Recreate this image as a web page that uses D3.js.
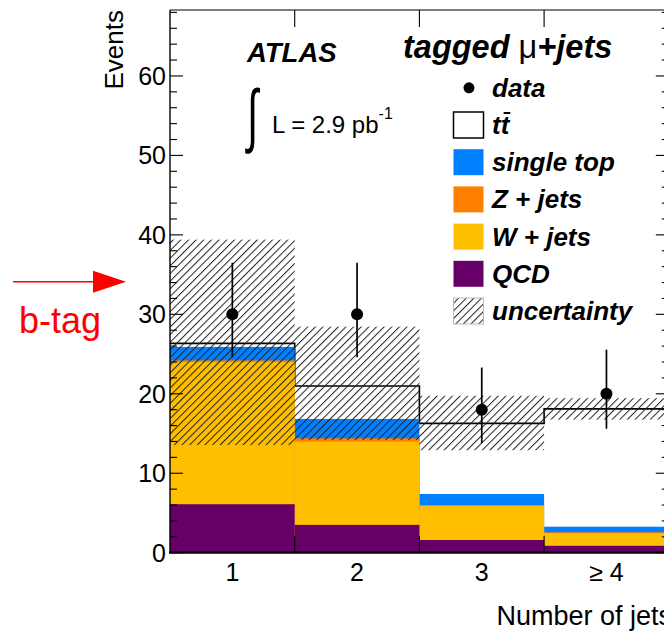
<!DOCTYPE html>
<html>
<head>
<meta charset="utf-8">
<script src="https://cdn.jsdelivr.net/npm/d3@7"></script>
<style>
  html, body { margin: 0; padding: 0; background: #fff; }
  svg { display: block; }
  text { font-family: "Liberation Sans", Arial, Helvetica, sans-serif; }
</style>
</head>
<body>
<svg id="chart" width="664" height="631"></svg>
<script>
// Jet multiplicity bins
const bins = ["1", "2", "3", "\u2265 4"];

// Expected events per bin, by process
const qcd       = [6.1, 3.5, 1.6, 0.87];
const wJets     = [17.9, 10.47, 4.3, 1.6];
const zJets     = [0.2, 0.43, 0.1, 0.1];
const singleTop = [1.7, 2.43, 1.39, 0.7];
const ttbar     = [0.45, 4.15, 8.89, 14.83];

// Systematic uncertainty band (lower / upper edge)
const uncLow  = [13.55, 14.2, 12.9, 16.75];
const uncHigh = [39.4, 28.45, 19.75, 19.45];

// Observed data with asymmetric Poisson errors
const dataCounts = [30, 30, 18, 20];
const dataErrUp   = [6.5, 6.5, 5.3, 5.55];
const dataErrDown = [5.4, 5.4, 4.2, 4.4];

const yTicks = [0, 10, 20, 30, 40, 50, 60];

const svg = d3.select("#chart");
const frameL = 170, frameR = 668.8, frameT = 10, frameB = 552.7;

const x = d3.scaleLinear().domain([0.5, 4.5]).range([frameL, frameR]);
const y = d3.scaleLinear().domain([0, 68.3]).range([frameB, frameT]);

const rows = bins.map((b, i) => ({
  bin: i + 1, qcd: qcd[i], w: wJets[i], z: zJets[i], st: singleTop[i], tt: ttbar[i]
}));
const keys = ["qcd", "w", "z", "st", "tt"];
const stack = d3.stack().keys(keys)(rows);

const colors = { qcd: "#660066", w: "#ffbf00", z: "#ff7f00", st: "#0080ff", tt: "#ffffff" };

// hatch pattern for the uncertainty band
const defs = svg.append("defs");
defs.append("pattern")
  .attr("id", "hatch")
  .attr("patternUnits", "userSpaceOnUse")
  .attr("width", 5.4).attr("height", 10)
  .attr("patternTransform", "rotate(45)")
  .append("line")
  .attr("x1", 0.5).attr("y1", 0).attr("x2", 0.5).attr("y2", 10)
  .attr("stroke", "#222").attr("stroke-width", 1);

const plot = svg.append("g");

// stacked histograms, drawn from the top of the stack downward
[...stack].reverse().forEach(layer => {
  const k = layer.key;
  plot.append("g").selectAll("rect")
    .data(layer)
    .join("rect")
    .attr("x", d => x(d.data.bin - 0.5))
    .attr("width", d => x(d.data.bin + 0.5) - x(d.data.bin - 0.5))
    .attr("y", d => y(d[1]))
    .attr("height", d => y(0) - y(d[1]))
    .attr("fill", colors[k]);
  if (k === "tt") {
    // outline of the total expectation
    let p = "";
    layer.forEach((d, i) => {
      const x0 = x(d.data.bin - 0.5), x1 = x(d.data.bin + 0.5);
      p += (i === 0 ? `M${x0},${y(d[1])}` : `V${y(d[1])}`) + `H${x1}`;
    });
    plot.append("path").attr("d", p).attr("fill", "none")
      .attr("stroke", "#000").attr("stroke-width", 1.6);
  }
});

// uncertainty band
plot.append("g").selectAll("rect")
  .data(bins.map((b, i) => ({ bin: i + 1, lo: uncLow[i], hi: uncHigh[i] })))
  .join("rect")
  .attr("x", d => x(d.bin - 0.5))
  .attr("width", d => x(d.bin + 0.5) - x(d.bin - 0.5))
  .attr("y", d => y(d.hi))
  .attr("height", d => y(d.lo) - y(d.hi))
  .attr("fill", "url(#hatch)");

// frame and ticks
const axes = svg.append("g").attr("stroke", "#000");
axes.append("line").attr("x1", frameL).attr("x2", frameL).attr("y1", frameT).attr("y2", frameB).attr("stroke-width", 1.4);
axes.append("line").attr("x1", frameL).attr("x2", frameR).attr("y1", frameT).attr("y2", frameT).attr("stroke-width", 1.2);
axes.append("line").attr("x1", frameR).attr("x2", frameR).attr("y1", frameT).attr("y2", frameB).attr("stroke-width", 1.2);
axes.append("line").attr("x1", frameL - 1).attr("x2", frameR).attr("y1", frameB).attr("y2", frameB).attr("stroke-width", 2.2);

const minorY = d3.range(0, 68.3, 2);
minorY.forEach(v => {
  const major = v % 10 === 0;
  const len = major ? 13 : 7;
  axes.append("line").attr("x1", frameL).attr("x2", frameL + len).attr("y1", y(v)).attr("y2", y(v)).attr("stroke-width", 1.1);
  axes.append("line").attr("x1", frameR - len).attr("x2", frameR).attr("y1", y(v)).attr("y2", y(v)).attr("stroke-width", 1.1);
});
[1.5, 2.5, 3.5].forEach(v => {
  axes.append("line").attr("x1", x(v)).attr("x2", x(v)).attr("y1", frameB).attr("y2", frameB - 17).attr("stroke-width", 1.1);
  axes.append("line").attr("x1", x(v)).attr("x2", x(v)).attr("y1", frameT).attr("y2", frameT + 17).attr("stroke-width", 1.1);
});

// tick labels
svg.append("g").selectAll("text")
  .data(yTicks).join("text")
  .attr("x", 166).attr("y", d => y(d) + 9)
  .attr("text-anchor", "end")
  .attr("font-size", 25)
  .text(d => d);

svg.append("g").selectAll("text")
  .data(bins).join("text")
  .attr("x", (d, i) => x(i + 1)).attr("y", 581)
  .attr("text-anchor", "middle")
  .attr("font-size", 25)
  .text(d => d);

// axis titles
svg.append("text")
  .attr("transform", "translate(123,10) rotate(-90)")
  .attr("text-anchor", "end")
  .attr("font-size", 26)
  .text("Events");

svg.append("text")
  .attr("x", 672).attr("y", 625)
  .attr("text-anchor", "end")
  .attr("font-size", 27)
  .text("Number of jets");

// data points
const dataG = svg.append("g");
dataCounts.forEach((v, i) => {
  dataG.append("line")
    .attr("x1", x(i + 1)).attr("x2", x(i + 1))
    .attr("y1", y(v + dataErrUp[i])).attr("y2", y(v - dataErrDown[i]))
    .attr("stroke", "#000").attr("stroke-width", 1.7);
  dataG.append("circle")
    .attr("cx", x(i + 1)).attr("cy", y(v)).attr("r", 6)
    .attr("fill", "#000");
});

// labels
svg.append("text")
  .attr("x", 247).attr("y", 62)
  .attr("font-size", 27.5).attr("font-weight", "bold").attr("font-style", "italic")
  .text("ATLAS");

// integral sign, drawn tall and slim
svg.append("text")
  .attr("transform", "translate(247,139) scale(0.8,1.4)")
  .attr("font-family", "DejaVu Serif, serif")
  .attr("font-size", 50)
  .text("\u222B");

const lumi = svg.append("text")
  .attr("x", 272).attr("y", 133)
  .attr("font-size", 24);
lumi.append("tspan").text("L = 2.9 pb");
lumi.append("tspan").attr("dy", -14).attr("font-size", 16).text("-1");

// legend
const lg = svg.append("g");
const title = lg.append("text")
  .attr("x", 403).attr("y", 58)
  .attr("font-size", 32.5).attr("font-weight", "bold").attr("font-style", "italic");
title.append("tspan").text("tagged ");
title.append("tspan").attr("font-weight", "normal").attr("font-style", "normal").text("\u03BC");
title.append("tspan").text("+jets");

const entries = [
  { label: "data", kind: "marker" },
  { label: "tt", kind: "box", fill: colors.tt, stroke: "#000" },
  { label: "single top", kind: "box", fill: colors.st },
  { label: "Z + jets", kind: "box", fill: colors.z },
  { label: "W + jets", kind: "box", fill: colors.w },
  { label: "QCD", kind: "box", fill: colors.qcd },
  { label: "uncertainty", kind: "hatch" }
];
entries.forEach((e, i) => {
  const cy = 87.8 + i * 37.2;
  if (e.kind === "marker") {
    lg.append("circle").attr("cx", 469).attr("cy", cy).attr("r", 5.5).attr("fill", "#000");
  } else if (e.kind === "box") {
    lg.append("rect").attr("x", 453.5).attr("y", cy - 13).attr("width", 30).attr("height", 26)
      .attr("fill", e.fill)
      .attr("stroke", e.stroke || "none").attr("stroke-width", 1.5);
  } else {
    lg.append("rect").attr("x", 453.5).attr("y", cy - 13).attr("width", 30).attr("height", 26)
      .attr("fill", "url(#hatch)").attr("stroke", "#bbb").attr("stroke-width", 1);
  }
  const t = lg.append("text")
    .attr("x", 492).attr("y", cy + 9)
    .attr("font-size", 26).attr("font-weight", "bold").attr("font-style", "italic")
    .text(e.label);
  if (e.label === "tt") {
    // bar over the second t
    const ext = t.node().getExtentOfChar(1);
    lg.append("line")
      .attr("x1", ext.x + 3).attr("x2", ext.x + ext.width + 1)
      .attr("y1", cy - 12).attr("y2", cy - 12)
      .attr("stroke", "#000").attr("stroke-width", 2);
  }
});

// b-tag annotation arrow
const ann = svg.append("g");
ann.append("line").attr("x1", 13).attr("x2", 95).attr("y1", 281.7).attr("y2", 281.7)
  .attr("stroke", "#ff0000").attr("stroke-width", 1.5);
ann.append("path").attr("d", "M93,270.7 L126,281.7 L93,292.7 Z").attr("fill", "#ff0000");
ann.append("text").attr("x", 19).attr("y", 333)
  .attr("font-size", 36).attr("fill", "#ff0000")
  .text("b-tag");
</script>
</body>
</html>
